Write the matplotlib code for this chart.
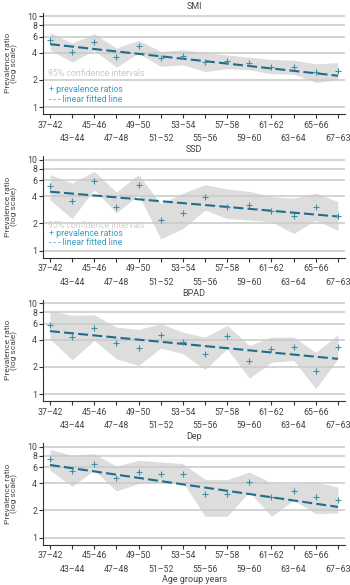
import numpy as np
import matplotlib
matplotlib.use("Agg")
import matplotlib.pyplot as plt

plt.rcParams['font.family'] = ['Roboto', 'DejaVu Sans']

categories = ["37–42", "43–44", "45–46", "47–48", "49–50", "51–52", "53–54",
              "55–56", "57–58", "59–60", "61–62", "63–64", "65–66", "67–63"]

panel_titles = ["SMI", "SSD", "BPAD", "Dep"]

smi_ratio = [5.44, 4.04, 5.25, 3.56, 4.67, 3.47, 3.68, 3.11, 3.24, 3.06, 2.79, 2.76, 2.41, 2.49]
smi_lo = [4.29, 3.13, 4.22, 2.76, 3.94, 2.81, 2.93, 2.47, 2.65, 2.58, 2.33, 2.31, 1.87, 2.00]
smi_hi = [6.66, 5.08, 6.44, 4.48, 5.44, 4.11, 4.29, 4.01, 3.75, 3.55, 3.35, 3.30, 3.00, 3.10]
smi_fit = [4.95, 2.22]

ssd_ratio = [5.12, 3.54, 5.92, 3.00, 5.34, 2.15, 2.62, 3.95, 3.03, 3.19, 2.75, 2.42, 3.00, 2.42]
ssd_lo = [3.63, 2.26, 4.70, 2.60, 4.13, 1.35, 1.75, 2.80, 2.26, 2.17, 2.08, 1.54, 2.17, 1.67]
ssd_hi = [6.90, 5.57, 7.50, 4.42, 6.90, 3.30, 4.30, 5.34, 4.78, 4.50, 3.95, 3.79, 4.31, 3.48]
ssd_fit = [4.47, 2.38]

bpad_ratio = [5.82, 4.25, 5.35, 3.68, 3.24, 4.44, 3.75, 2.79, 4.36, 2.31, 3.16, 3.30, 1.82, 3.30]
bpad_lo = [4.08, 2.39, 3.91, 2.45, 2.07, 3.22, 2.79, 1.87, 3.16, 1.50, 2.25, 2.35, 1.15, 2.45]
bpad_hi = [8.37, 7.38, 7.50, 5.48, 5.17, 5.97, 4.83, 4.25, 5.72, 3.44, 4.25, 4.25, 2.90, 4.51]
bpad_fit = [4.95, 2.45]

dep_ratio = [7.43, 5.44, 6.55, 4.55, 5.30, 5.08, 5.00, 3.06, 3.06, 4.11, 2.81, 3.24, 2.81, 2.62]
dep_lo = [5.53, 3.68, 5.53, 3.27, 3.94, 4.11, 4.11, 1.72, 1.72, 3.19, 1.72, 2.58, 1.84, 1.87]
dep_hi = [9.42, 8.09, 8.44, 6.12, 7.13, 6.83, 6.55, 4.40, 4.36, 5.30, 4.00, 3.94, 4.11, 3.60]
dep_fit = [6.33, 2.18]

ytick_vals = [1, 2, 4, 6, 8, 10]

panels = [
    (smi_ratio, smi_lo, smi_hi, smi_fit),
    (ssd_ratio, ssd_lo, ssd_hi, ssd_fit),
    (bpad_ratio, bpad_lo, bpad_hi, bpad_fit),
    (dep_ratio, dep_lo, dep_hi, dep_fit),
]

W, H = 350, 585
fig = plt.figure(figsize=(W / 100, H / 100), dpi=100)

band_col = "#dddddd"
grid_col = "#c9c9c9"
mark_col = "#3f8ea3"
line_col = "#1f6c8e"
legend_col = "#3a9cc0"
text_col = "#444444"
spine_col = "#333333"

left_px, right_px = 43.3, 345.0
ax_h_px = 101.3
tops = [12.7 + 143.5 * k for k in range(4)]

x = np.arange(len(categories))
for k, (ratio, lo, hi, fit) in enumerate(panels):
    top = tops[k]
    ax = fig.add_axes([left_px / W, 1 - (top + ax_h_px) / H,
                       (right_px - left_px) / W, ax_h_px / H])
    ax.set_yscale('log')
    ax.set_ylim(0.84, 11.0)
    ax.set_xlim(-0.30, 13.32)

    ax.fill_between(x, lo, hi, color=band_col, lw=0, zorder=0.3)
    ax.plot(x, ratio, linestyle='none', marker='+', ms=4.5, mew=0.8,
            color=mark_col, zorder=3)
    ln, = ax.plot([x[0], x[-1]], fit, color=line_col, lw=1.5, zorder=2.5)
    ln.set_dashes((4.8, 2.0))

    ax.set_yticks(ytick_vals)
    ax.set_yticklabels([str(v) for v in ytick_vals])
    ax.yaxis.set_minor_locator(matplotlib.ticker.NullLocator())
    ax.grid(axis='y', which='major', color=grid_col, lw=1.1)
    ax.set_axisbelow(True)

    ax.set_xticks(x)
    ax.set_xticklabels(categories)
    for i, t in enumerate(ax.xaxis.get_major_ticks()):
        t.set_pad(2.0 if i % 2 == 0 else 11.5)

    ax.tick_params(axis='both', colors=spine_col, labelcolor=text_col,
                   labelsize=6.3, length=3, width=0.8)
    ax.tick_params(axis='y', pad=1.5)
    for s in ['top', 'right']:
        ax.spines[s].set_visible(False)
    for s in ['left', 'bottom']:
        ax.spines[s].set_color(spine_col)
        ax.spines[s].set_linewidth(0.8)

    ax.set_title(panel_titles[k], fontsize=6.5, color=text_col, pad=3)
    ax.set_ylabel("Prevalence ratio\n(log scale)", fontsize=6.0,
                  color=text_col, linespacing=1.0)
    ax.yaxis.set_label_coords(-0.083, 0.5)

    if k == 0:
        ax.text(0.016, 0.395, "95% confidence intervals", transform=ax.transAxes,
                fontsize=6.3, color="#c8c8c8", va='center', ha='left')
        ax.text(0.020, 0.237, "+ prevalence ratios", transform=ax.transAxes,
                fontsize=6.3, color=legend_col, va='center', ha='left')
        ax.text(0.020, 0.148, "- - - linear fitted line", transform=ax.transAxes,
                fontsize=6.3, color=legend_col, va='center', ha='left')
    if k == 1:
        ax.text(0.016, 0.318, "95% confidence intervals", transform=ax.transAxes,
                fontsize=6.3, color="#d0d0d0", va='center', ha='left')
        ax.text(0.020, 0.237, "+ prevalence ratios", transform=ax.transAxes,
                fontsize=6.3, color=legend_col, va='center', ha='left')
        ax.text(0.020, 0.146, "- - - linear fitted line", transform=ax.transAxes,
                fontsize=6.3, color=legend_col, va='center', ha='left')
    if k == 3:
        ax.set_xlabel("Age group years", fontsize=6.5, color=text_col, labelpad=1)

fig.savefig("out.png", dpi=100)
